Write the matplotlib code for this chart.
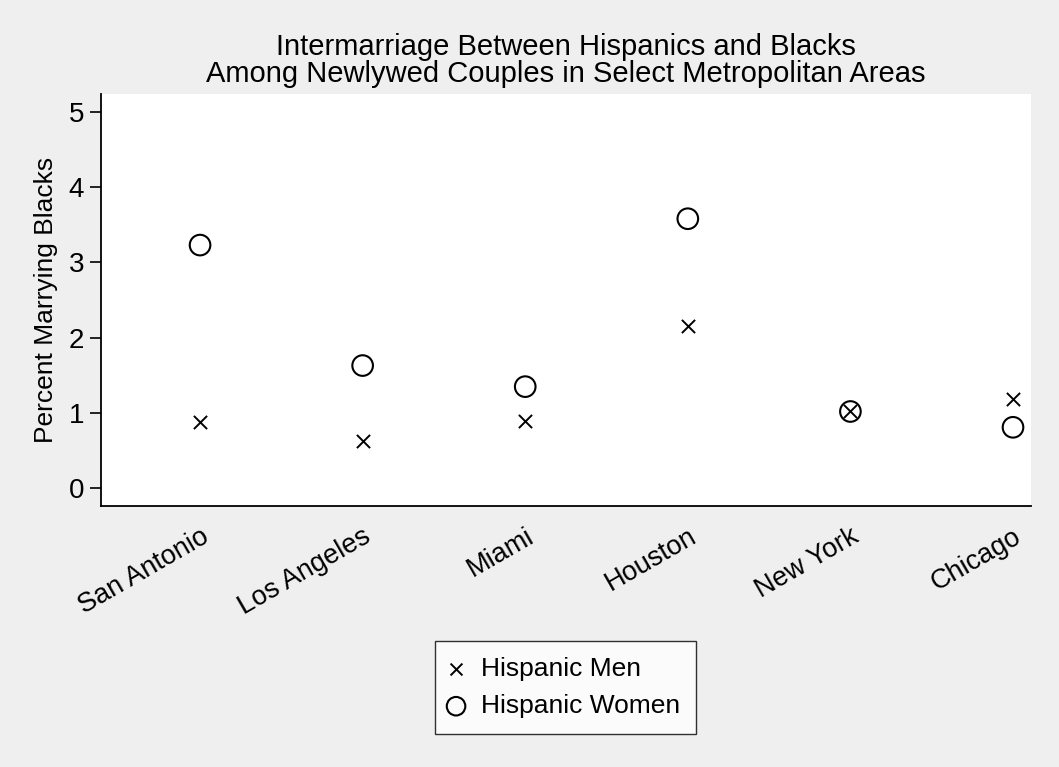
import matplotlib
matplotlib.use("Agg")
from matplotlib import pyplot as plt
import numpy as np

plt.rcParams['font.family'] = ['Liberation Sans', 'DejaVu Sans']

cities = ["San Antonio", "Los Angeles", "Miami", "Houston", "New York", "Chicago"]
men = [0.88, 0.63, 0.90, 2.15, 1.02, 1.19]
women = [3.23, 1.63, 1.35, 3.58, 1.02, 0.81]
yticks = [0, 1, 2, 3, 4, 5]

bg = "#efefef"
fig = plt.figure(figsize=(10.59, 7.67), dpi=100, facecolor=bg)
ax = fig.add_axes([0.0954, 0.3407, 0.8779, 0.5367])
ax.set_facecolor("white")

pos = np.arange(1, len(cities) + 1)
ax.scatter(pos, men, marker="x", s=90, c="black", linewidths=1.4,
           label="Hispanic Men", zorder=3)
ax.scatter(pos, women, marker="o", s=220, facecolors="none",
           edgecolors="black", linewidths=1.5, label="Hispanic Women", zorder=3)

ax.set_xlim(0.391, 6.109)
ax.set_ylim(-0.231, 5.236)
ax.set_yticks(yticks)
ax.set_xticks(pos)
ax.set_xticklabels(cities, rotation=30, ha="right", rotation_mode="anchor")
ax.tick_params(axis="y", length=8, width=1.2, labelsize=20, pad=4)
ax.tick_params(axis="x", length=0, labelsize=19.5, pad=13)

for side in ["top", "right"]:
    ax.spines[side].set_visible(False)
for side in ["left", "bottom"]:
    ax.spines[side].set_linewidth(1.3)

ax.set_ylabel("Percent Marrying Blacks", fontsize=19, labelpad=8)
ax.set_title("Intermarriage Between Hispanics and Blacks\n"
             "Among Newlywed Couples in Select Metropolitan Areas",
             fontsize=21, linespacing=0.95, pad=9)

# legend box centred under the rotated city names
leg = fig.legend(loc="center", bbox_to_anchor=(0.534, 0.1036), fontsize=19,
                 frameon=True, fancybox=False, edgecolor="black",
                 handletextpad=0.75, borderpad=0.6, labelspacing=0.5,
                 handlelength=0.4, markerscale=0.9)
leg.get_frame().set_linewidth(1.0)

fig.savefig("out.png", dpi=100, facecolor=bg)
